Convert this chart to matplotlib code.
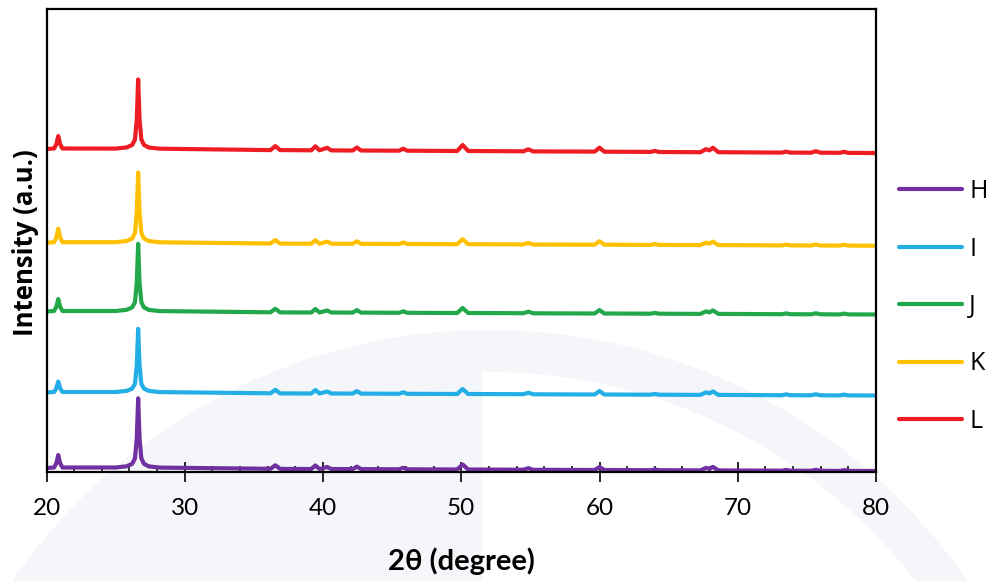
import numpy as np
import matplotlib.pyplot as plt
from matplotlib.patches import Circle, Wedge, Rectangle
from matplotlib.ticker import MultipleLocator

two_theta = [20.0, 20.55, 20.72, 20.85, 20.98, 21.15,
             25.0, 25.8, 26.2, 26.4, 26.53, 26.63, 26.73, 26.86, 27.05, 27.4, 28.2,
             36.2, 36.55, 36.9, 39.15, 39.45, 39.75, 40.3, 40.6, 42.15, 42.45, 42.75,
             45.5, 45.8, 46.1, 49.7, 50.1, 50.5, 54.5, 54.85, 55.2, 59.65, 60.0, 60.35,
             63.7, 64.0, 64.3, 67.3, 67.7, 67.95, 68.2, 68.6, 73.2, 73.5, 73.8,
             75.3, 75.65, 76.0, 77.4, 77.7, 78.0, 80.0]

# intensities (a.u.) relative to each pattern's own baseline
int_H = [0, 0.5, 5, 13, 5, 0.5,
         0.5, 1.7, 4.2, 9.7, 29.7, 69.7, 29.7, 9.7, 4.2, 1.6, 0.4,
         -0.8, 2.7, -0.9, -1.0, 2.5, -1.0, 1.0, -1.0, -1.1, 1.4, -1.1,
         -1.3, 0.2, -1.3, -1.5, 3.5, -1.5, -1.7, -0.2, -1.8, -2.0, 1.0, -2.0,
         -2.2, -1.4, -2.2, -2.4, 0.1, -0.9, 1.1, -2.4, -2.7, -1.9, -2.7,
         -2.8, -1.8, -2.8, -2.9, -2.1, -2.9, -3.0]
int_I = [0, 0.5, 4.5, 11, 4.5, 0.5,
         0.5, 1.6, 3.9, 8.7, 27.2, 63.7, 27.2, 8.7, 3.9, 1.6, 0.4,
         -0.8, 2.7, -0.9, -1.0, 2.5, -1.0, 1.0, -1.0, -1.1, 1.4, -1.1,
         -1.3, 0.2, -1.3, -1.5, 3.5, -1.5, -1.7, -0.2, -1.8, -2.0, 1.5, -2.0,
         -2.2, -1.4, -2.2, -2.4, 0.1, -0.9, 1.1, -2.4, -2.7, -1.9, -2.7,
         -2.8, -1.8, -2.8, -2.9, -2.1, -2.9, -3.0]
int_J = [0, 0.5, 5, 12.5, 5, 0.5,
         0.5, 1.7, 4.1, 9.3, 28.9, 67.7, 28.9, 9.3, 4.1, 1.6, 0.4,
         -0.8, 2.7, -0.9, -1.0, 2.5, -1.0, 1.0, -1.0, -1.1, 1.4, -1.1,
         -1.3, 0.2, -1.3, -1.5, 3.5, -1.5, -1.7, -0.2, -1.8, -2.0, 1.5, -2.0,
         -2.2, -1.4, -2.2, -2.4, 0.1, -0.9, 1.1, -2.4, -2.7, -1.9, -2.7,
         -2.8, -1.8, -2.8, -2.9, -2.1, -2.9, -3.0]
int_K = [0, 0.5, 5.5, 14, 5.5, 0.5,
         0.5, 1.7, 4.2, 9.8, 29.9, 70.2, 29.9, 9.8, 4.2, 1.6, 0.4,
         -0.8, 2.7, -0.9, -1.0, 2.5, -1.0, 1.0, -1.0, -1.1, 1.4, -1.1,
         -1.3, 0.2, -1.3, -1.5, 3.5, -1.5, -1.7, -0.2, -1.8, -2.0, 1.5, -2.0,
         -2.2, -1.4, -2.2, -2.4, 0.1, -0.9, 1.1, -2.4, -2.7, -1.9, -2.7,
         -2.8, -1.8, -2.8, -2.9, -2.1, -2.9, -3.0]
int_L = [0, 0.5, 5, 13, 5, 0.5,
         0.4, 1.6, 4.1, 9.6, 29.6, 69.6, 29.6, 9.6, 4.1, 1.5, 0.3,
         -1.1, 2.9, -1.1, -1.3, 2.7, -1.3, 1.2, -1.4, -1.5, 1.5, -1.5,
         -1.7, 0.3, -1.7, -2.0, 4.0, -2.0, -2.3, -0.3, -2.4, -2.6, 1.3, -2.7,
         -2.9, -1.9, -3.0, -3.2, -0.2, -1.4, 1.3, -3.2, -3.6, -2.6, -3.6,
         -3.7, -2.2, -3.7, -3.8, -2.8, -3.9, -4.0]

samples = ["H", "I", "J", "K", "L"]
intensities = [int_H, int_I, int_J, int_K, int_L]
offsets = [4, 79.5, 160.5, 229.3, 323]   # vertical stacking
colors = ["#7030A0", "#23AEE5", "#22A84A", "#FFC000", "#EE1D23"]

W, H = 993, 581
fig = plt.figure(figsize=(W / 100, H / 100), dpi=100)

# faint watermark behind the plot (pixel coords, y from top)
wm = "#F4F6FA"
bg = fig.add_axes([0, 0, 1, 1], zorder=-10)
bg.set_xlim(0, W)
bg.set_ylim(H, 0)
bg.axis("off")
disk = Circle((490, 910), 580, color=wm, lw=0)
bg.add_patch(disk)
disk.set_clip_path(Rectangle((0, 0), 482, H, transform=bg.transData))
ring = Wedge((490, 910), 580, 180, 360, width=42, color=wm, lw=0)
bg.add_patch(ring)

ax = fig.add_axes([46.5 / W, 109 / H, (876 - 46.5) / W, (472 - 9) / H])
ax.patch.set_alpha(0)

for name, yi, off, c in zip(samples, intensities, offsets, colors):
    ax.plot(two_theta, np.array(yi) + off, color=c, lw=3, label=name,
            solid_capstyle="round", solid_joinstyle="round")

ax.set_xlim(20, 80)
ax.set_ylim(0, 463)
ax.xaxis.set_major_locator(MultipleLocator(10))
ax.xaxis.set_minor_locator(MultipleLocator(2))
ax.tick_params(axis="x", which="major", direction="inout", length=15, width=1.2,
               pad=11, labelsize=17.5)
ax.tick_params(axis="x", which="minor", direction="in", length=4, width=1.1)
ax.set_yticks([])
for s in ax.spines.values():
    s.set_linewidth(1.6)

tick_font = ["Lato", "DejaVu Sans"]
for lab in ax.get_xticklabels():
    lab.set_family(tick_font)

ax.set_xlabel("2θ (degree)", fontsize=21, fontweight="bold", family=tick_font,
              labelpad=21)
ax.set_ylabel("Intensity (a.u.)", fontsize=18.5, fontweight="bold",
              family=["Open Sans", "DejaVu Sans"])
ax.yaxis.set_label_coords(-0.009, 0.495)

fig.legend(loc="center left", bbox_to_anchor=(899 / W, 1 - 306.5 / H),
           frameon=False, borderpad=0, borderaxespad=0, handlelength=2.5,
           handletextpad=0.3, labelspacing=1.3,
           prop={"family": ["Open Sans", "DejaVu Sans"], "size": 18})

fig.savefig("out.png", dpi=100)
